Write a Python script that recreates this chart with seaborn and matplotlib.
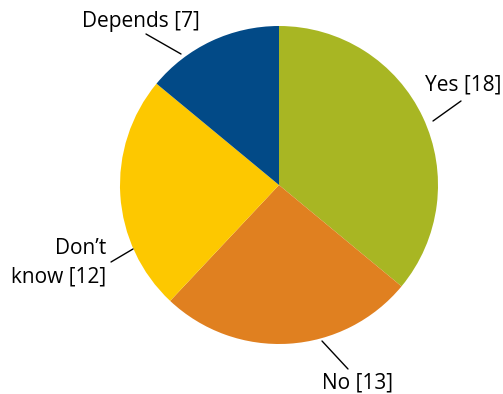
import numpy as np
import matplotlib
matplotlib.use("Agg")
import matplotlib.pyplot as plt
import seaborn as sns

labels = ["Yes [18]", "No [13]", "Don\u2019t\nknow [12]", "Depends [7]"]
values = [18, 13, 12, 7]
colors = ["#a8b623", "#e08020", "#fdc800", "#024a87"]

sns.set_theme(style="white")
plt.rcParams["font.family"] = ["Open Sans", "DejaVu Sans"]
plt.rcParams["text.color"] = "black"

W, H = 503, 394
cx, cy, r = 279, 185, 159

fig = plt.figure(figsize=(W / 100, H / 100), dpi=100)
ax = fig.add_axes([(cx - r) / W, (H - cy - r) / H, 2 * r / W, 2 * r / H])

pal = sns.color_palette(colors)
ax.pie(values, colors=pal, startangle=90, counterclock=False, radius=1,
       wedgeprops=dict(linewidth=0))
ax.set_xlim(-1, 1)
ax.set_ylim(-1, 1)
ax.set_aspect("equal")
ax.axis("off")

# leader lines and label positions (data units, radius = 1)
def px(x, y):
    return ((x - cx) / r, (cy - y) / r)

lines = [
    (px(433, 121), px(461, 101)),
    (px(322, 341), px(348, 369)),
    (px(133, 249), px(111, 262)),
    (px(181, 54), px(146, 34)),
]
for a, b in lines:
    ax.plot([a[0], b[0]], [a[1], b[1]], color="black", lw=1, clip_on=False)

fs = 15
tx, ty = px(501, 90)
ax.text(tx, ty, labels[0], ha="right", va="baseline", fontsize=fs, clip_on=False)
tx, ty = px(322, 389)
ax.text(tx, ty, labels[1], ha="left", va="baseline", fontsize=fs, clip_on=False)
tx, ty = px(106, 263)
ax.text(tx, ty, labels[2], ha="right", va="center", fontsize=fs,
        multialignment="right", linespacing=1.45, clip_on=False)
tx, ty = px(141, 27)
ax.text(tx, ty, labels[3], ha="center", va="baseline", fontsize=fs, clip_on=False)

fig.savefig("out.png", dpi=100)
